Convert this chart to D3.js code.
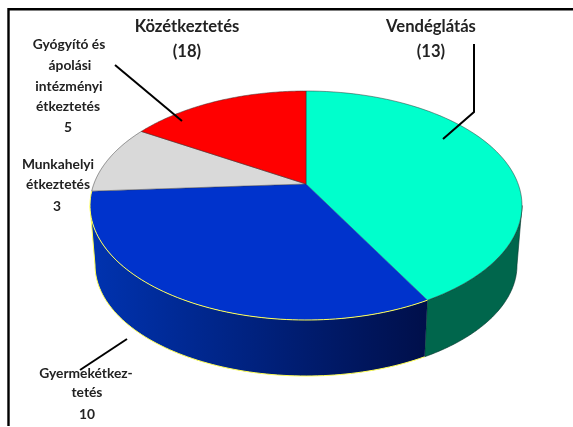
<!DOCTYPE html>
<html><head><meta charset="utf-8">
<script src="https://cdn.jsdelivr.net/npm/d3@7"></script>
<style>html,body{margin:0;padding:0;background:#fff}svg{display:block;filter:blur(0.5px)}text{font-family:Lato,"Open Sans",sans-serif;font-weight:700;fill:#222;text-anchor:middle}</style>
</head><body><script>
// Slices as drawn (share of the rim), clockwise from 12 o'clock
const sliceNames = ["Vendéglátás","Gyermekétkeztetés","Munkahelyi étkeztetés","Gyógyító és ápolási intézményi étkeztetés"];
const sliceShares = [40.5,36.5,9.2,13.8];
const sliceColors = ["#00ffcc","#0033cc","#d9d9d9","#ff0000"];
// Printed labels
const labelLines = [
 [["Közétkeztetés",187,32,16.6],["(18)",187,57,16.6]],
 [["Vendéglátás",431,32,16.6],["(13)",431,57,16.6]],
 [["Gyógyító és",69,49,13.8],["ápolási",70,70,13.8],["intézményi",69,91,13.8],["étkeztetés",68,111,13.8],["5",68,132,13.8]],
 [["Munkahelyi",58,169,13.8],["étkeztetés",58,189,13.8],["3",57,211,13.8]],
 [["Gyermekétkez-",86,378,13.8],["tetés",87,397,13.8],["10",87,419,13.8]]
];
const W=573,H=427;
const svg=d3.select("body").append("svg").attr("width",W).attr("height",H);
const defs=svg.append("defs");
const grad=defs.append("linearGradient").attr("id","wall").attr("gradientUnits","userSpaceOnUse")
 .attr("x1",90).attr("x2",427).attr("y1",0).attr("y2",0);
grad.append("stop").attr("offset",0).attr("stop-color","#0033b0");
grad.append("stop").attr("offset",1).attr("stop-color","#000f4a");

// Unit-circle to pixel scales for the top face and the bottom rim
const xTop=d3.scaleLinear().domain([-1,1]).range([90,522]);
const yTop=d3.scaleLinear().domain([-1,1]).range([91,320]);
const xBot=d3.scaleLinear().domain([-1,1]).range([95,517]);
const yBot=d3.scaleLinear().domain([-1,1]).range([154,376]);
const apex=[306,184];
const arcs=d3.pie().sort(null).value(d=>d)(sliceShares);
const line=d3.line();
const samples=(a,b)=>d3.range(0,81).map(i=>a+(b-a)*i/80);
const topPt=t=>[xTop(Math.sin(t)),yTop(-Math.cos(t))];
const botPt=t=>[xBot(Math.sin(t)),yBot(-Math.cos(t))];
const wall=(a,b)=>line([...samples(a,b).map(topPt),...samples(a,b).reverse().map(botPt)])+"Z";

// Side walls: the visible front half, from the right extreme to the left extreme
const quarter=Math.PI/2, boundary=arcs[0].endAngle, leftEnd=quarter*3;
svg.append("path").attr("d",wall(quarter,boundary)).attr("fill","#00664c").attr("stroke","#00332a").attr("stroke-width",.6);
svg.append("path").attr("d",wall(boundary,leftEnd)).attr("fill","url(#wall)");
// yellow rim of the blue slice's wall
svg.append("path").attr("d",line([...samples(boundary,leftEnd).map(botPt),topPt(leftEnd)])).attr("fill","none").attr("stroke","#ffff55").attr("stroke-width",1);

// Top faces
svg.selectAll("path.face").data(arcs).join("path").attr("class","face")
 .attr("d",d=>line([apex,...samples(d.startAngle,d.endAngle).map(topPt)])+"Z")
 .attr("fill",(d,i)=>sliceColors[i]).attr("stroke",(d,i)=>i==1?"none":"#333").attr("stroke-width",.5);
svg.append("path").attr("d",line(samples(boundary,arcs[1].endAngle).map(topPt))).attr("fill","none").attr("stroke","#ffff55").attr("stroke-width",1);

// Leaders
const leaders=[[[115,65],[182,121]],[[474,44],[474,112],[443,139]],[[127,339],[80,370]]];
leaders.forEach(p=>svg.append("path").attr("d",line(p)).attr("fill","none").attr("stroke","#000").attr("stroke-width",2));

// Labels
labelLines.flat().forEach(([s,x,y,f])=>svg.append("text").attr("x",x).attr("y",y).attr("font-size",f).text(s));

// Frame
svg.append("path").attr("d",line([[8.5,426],[8.5,9.2],[573,9.2]])).attr("fill","none").attr("stroke","#000").attr("stroke-width",2.4);
</script></body></html>
